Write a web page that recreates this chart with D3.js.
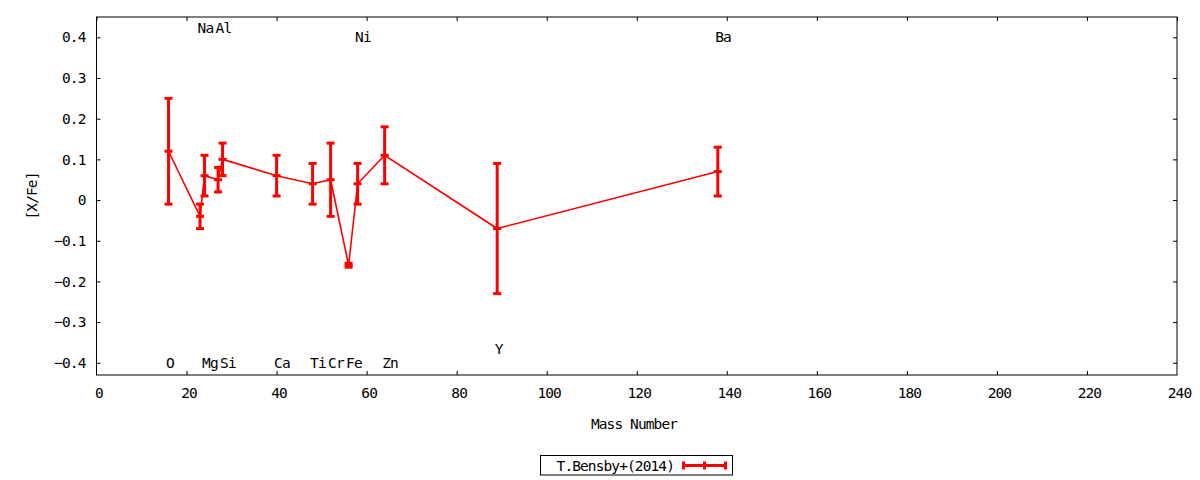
<!DOCTYPE html>
<html>
<head>
<meta charset="utf-8">
<script src="https://cdn.jsdelivr.net/npm/d3@7"></script>
<style>
  html, body { margin: 0; padding: 0; background: #fff; }
  svg text { font-family: "DejaVu Sans Mono", "Liberation Mono", monospace; font-size: 14.5px; letter-spacing: -0.9px; fill: #000; }
</style>
</head>
<body>
<svg id="chart" width="1200" height="480"></svg>
<script>
// ---- data ----
const elements   = ["O", "Na", "Mg", "Al", "Si", "Ca", "Ti", "Cr", "Fe", "Ni", "Zn", "Y", "Ba"];
const massNumber = [16, 23, 24, 27, 28, 40, 48, 52, 56, 58, 64, 89, 138];
const xFe        = [0.12, -0.04, 0.06, 0.05, 0.10, 0.06, 0.04, 0.05, -0.16, 0.04, 0.11, -0.07, 0.07];
const xFeErr     = [0.13, 0.03, 0.05, 0.03, 0.04, 0.05, 0.05, 0.09, 0.005, 0.05, 0.07, 0.16, 0.06];
const labelY     = [-0.40, 0.422, -0.40, 0.422, -0.40, -0.40, -0.40, -0.40, -0.40, 0.40, -0.40, -0.367, 0.40];
const xTicks     = [0, 20, 40, 60, 80, 100, 120, 140, 160, 180, 200, 220, 240];
const yTicks     = [-0.4, -0.3, -0.2, -0.1, 0, 0.1, 0.2, 0.3, 0.4];
const seriesName = "T.Bensby+(2014)";
const xTitle = "Mass Number";
const yTitle = "[X/Fe]";

// ---- layout ----
const svg = d3.select("#chart");
const m = { left: 96.5, top: 17, right: 1177, bottom: 375 };
const x = d3.scaleLinear().domain([0, 240]).range([m.left, m.right]);
const y = d3.scaleLinear().domain([-0.43, 0.45]).range([m.bottom, m.top]);
const red = "#ff0000";
const fmtY = v => (v === 0 ? "0" : d3.format(".1f")(v));

// axes (ticks point inward, mirrored on all sides)
const gB = svg.append("g").attr("transform", `translate(0,${m.bottom})`)
  .call(d3.axisBottom(x).tickValues(xTicks).tickSize(-4).tickPadding(13).tickFormat(d3.format("d")));
const gT = svg.append("g").attr("transform", `translate(0,${m.top})`)
  .call(d3.axisTop(x).tickValues(xTicks).tickSize(-4).tickFormat(""));
const gL = svg.append("g").attr("transform", `translate(${m.left},0)`)
  .call(d3.axisLeft(y).tickValues(yTicks).tickSize(-4).tickPadding(11).tickFormat(fmtY));
const gR = svg.append("g").attr("transform", `translate(${m.right},0)`)
  .call(d3.axisRight(y).tickValues(yTicks).tickSize(-4).tickFormat(""));
[gB, gT, gL, gR].forEach(g => {
  g.select(".domain").remove();
  g.selectAll(".tick line").attr("stroke", "#000").attr("stroke-width", 1);
  g.selectAll("text").attr("font-family", null).attr("font-size", null).attr("fill", "#000");
});
gB.selectAll(".tick").filter(d => d === 240 || d === 0).select("line").remove();
gB.selectAll(".tick text").attr("dx", 2);

// frame
svg.append("rect").attr("x", m.left).attr("y", m.top)
  .attr("width", m.right - m.left).attr("height", m.bottom - m.top)
  .attr("fill", "none").attr("stroke", "#000").attr("stroke-width", 1);

// axis titles
svg.append("text").attr("x", 634).attr("y", 424).attr("text-anchor", "middle")
  .attr("dominant-baseline", "central").text(xTitle);
svg.append("text").attr("transform", "translate(32,196) rotate(-90)")
  .attr("text-anchor", "middle").attr("dominant-baseline", "central").text(yTitle);

// data
const data = massNumber.map((a, i) => ({ a, v: xFe[i], e: xFeErr[i], el: elements[i], ly: labelY[i] }));
const plot = svg.append("g");

plot.append("path").datum(data)
  .attr("fill", "none").attr("stroke", red).attr("stroke-width", 1.6)
  .attr("d", d3.line().x(d => x(d.a)).y(d => y(d.v)));

const cap = 4;
const eb = plot.selectAll("g.eb").data(data).join("g").attr("class", "eb")
  .attr("stroke", red).attr("stroke-width", 3);
eb.append("line").attr("x1", d => x(d.a)).attr("x2", d => x(d.a))
  .attr("y1", d => y(d.v - d.e)).attr("y2", d => y(d.v + d.e));
eb.append("line").attr("x1", d => x(d.a) - cap).attr("x2", d => x(d.a) + cap)
  .attr("y1", d => y(d.v + d.e)).attr("y2", d => y(d.v + d.e));
eb.append("line").attr("x1", d => x(d.a) - cap).attr("x2", d => x(d.a) + cap)
  .attr("y1", d => y(d.v - d.e)).attr("y2", d => y(d.v - d.e));
eb.append("line").attr("x1", d => x(d.a) - cap).attr("x2", d => x(d.a) + cap)
  .attr("y1", d => y(d.v)).attr("y2", d => y(d.v));

// element labels
plot.selectAll("text.el").data(data).join("text").attr("class", "el")
  .attr("x", d => x(d.a) - 2.5).attr("y", d => y(d.ly))
  .attr("dominant-baseline", "central").text(d => d.el);

// legend
const lg = svg.append("g");
lg.append("rect").attr("x", 540.5).attr("y", 455.5).attr("width", 192).attr("height", 19.5)
  .attr("fill", "none").attr("stroke", "#000").attr("stroke-width", 1);
lg.append("text").attr("x", 674).attr("y", 465.5).attr("text-anchor", "end")
  .attr("dominant-baseline", "central").text(seriesName);
const lx1 = 683.5, lx2 = 725.5, ly = 465.5;
lg.append("line").attr("x1", lx1).attr("x2", lx2).attr("y1", ly).attr("y2", ly)
  .attr("stroke", red).attr("stroke-width", 3);
[lx1, (lx1 + lx2) / 2, lx2].forEach(px => {
  lg.append("line").attr("x1", px).attr("x2", px).attr("y1", ly - cap).attr("y2", ly + cap)
    .attr("stroke", red).attr("stroke-width", 3);
});
</script>
</body>
</html>
